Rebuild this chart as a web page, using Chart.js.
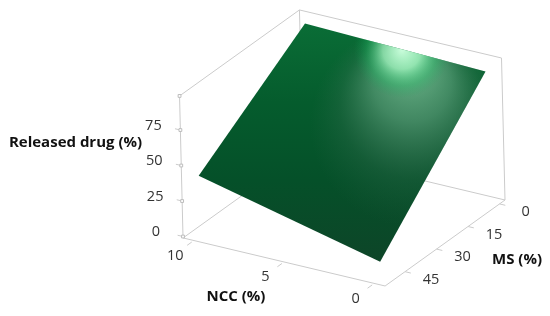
<!DOCTYPE html>
<html lang="en">

<head>
    <meta charset="UTF-8">
    <title>Released drug surface</title>
    <style>
        html, body { margin: 0; padding: 0; background: #fff; }
        canvas { display: block; }
    </style>
    <script src="https://cdn.jsdelivr.net/npm/chart.js"></script>
</head>

<body>
    <canvas id="myChart" width="550" height="316"></canvas>
    <script>
        // axis ticks
        const nccTicks = [10, 5, 0];
        const msTicks = [0, 15, 30, 45];
        const drugTicks = [0, 25, 50, 75];

        // box limits
        const nccRange = [-0.6, 10.6];
        const msRange = [-2.6, 54.5];
        const drugRange = [-1, 99];

        // surface corners: back, right, front, left
        const surfaceNcc = [10, 0, 0, 10];
        const surfaceMs = [0, 0, 51.5, 51.5];
        const surfaceDrug = [94, 90.4, 11, 41.5];

        const axisGrey = '#cbcbcb';
        const font = '"Open Sans", "Noto Sans", sans-serif';

        // fixed oblique view, data units -> plot units
        function project(ncc, ms, drug) {
            const n = ncc - nccRange[0];
            const m = ms - msRange[0];
            const z = drug - drugRange[0];
            return {
                x: 505 - 18.04 * n - 2.1 * m - 0.035 * z,
                y: 200 - 4.29 * n + 1.506 * m - 1.42 * z
            };
        }

        function lineSet(points, width) {
            return {
                data: points,
                showLine: true,
                borderColor: axisGrey,
                borderWidth: width || 1,
                pointRadius: 0,
                tension: 0,
                order: 5
            };
        }

        const [nLo, nHi] = nccRange;
        const [mLo, mHi] = msRange;
        const [zLo, zHi] = drugRange;

        const boxLines = [
            // floor
            [project(nHi, mHi, zLo), project(nLo, mHi, zLo), project(nLo, mLo, zLo), project(nHi, mLo, zLo), project(nHi, mHi, zLo)],
            // walls
            [project(nHi, mHi, zLo), project(nHi, mHi, zHi), project(nHi, mLo, zHi), project(nLo, mLo, zHi), project(nLo, mLo, zLo)],
            [project(nHi, mLo, zLo), project(nHi, mLo, zHi)]
        ];

        const tickLines = [
            ...nccTicks.map(n => [project(n, mHi + 1, zLo), project(n, mHi + 3.2, zLo)]),
            ...msTicks.map(m => [project(nLo, m, zLo), project(nLo - 0.32, m, zLo)]),
            ...drugTicks.map(z => [project(nHi, mHi, z), project(nHi + 0.3, mHi, z)])
        ];

        const drugMarkers = [...drugTicks.map(z => project(nHi, mHi, z)), project(nHi, mHi, zHi)];

        const surfacePoints = surfaceNcc.map((n, i) => project(n, surfaceMs[i], surfaceDrug[i]));
        surfacePoints.push(surfacePoints[0]);

        function baseShade(c) {
            const g = c.chart.ctx.createLinearGradient(0, 24, 0, 261);
            g.addColorStop(0, '#0a6d36');
            g.addColorStop(0.33, '#055c2d');
            g.addColorStop(0.66, '#055029');
            g.addColorStop(1, '#0d4528');
            return g;
        }

        function glowShade(c) {
            const g = c.chart.ctx.createRadialGradient(412, 60, 5, 412, 125, 102);
            g.addColorStop(0, 'rgba(150,215,175,0.72)');
            g.addColorStop(0.35, 'rgba(130,185,155,0.48)');
            g.addColorStop(0.7, 'rgba(90,130,110,0.17)');
            g.addColorStop(1, 'rgba(60,110,85,0)');
            return g;
        }

        function spotShade(c) {
            const g = c.chart.ctx.createRadialGradient(402, 50, 0, 402, 50, 48);
            g.addColorStop(0, 'rgba(205,255,222,0.98)');
            g.addColorStop(0.4, 'rgba(160,245,190,0.72)');
            g.addColorStop(0.75, 'rgba(30,190,100,0.3)');
            g.addColorStop(1, 'rgba(10,160,80,0)');
            return g;
        }

        function surfaceSet(shade, order) {
            return {
                data: surfacePoints,
                showLine: true,
                fill: 'shape',
                backgroundColor: shade,
                borderWidth: 0,
                pointRadius: 0,
                tension: 0,
                order: order
            };
        }

        // text labels, placed next to the projected ticks
        const axisText = {
            id: 'axisText',
            afterDraw(chart) {
                const { ctx, scales } = chart;
                const put = (text, x, y, bold) => {
                    ctx.font = (bold ? 'bold 15px ' : '14.5px ') + font;
                    ctx.fillStyle = bold ? '#111' : '#333';
                    ctx.textAlign = 'center';
                    ctx.textBaseline = 'middle';
                    ctx.fillText(text, x, y);
                };
                const px = p => [scales.x.getPixelForValue(p.x), scales.y.getPixelForValue(p.y)];
                ctx.save();
                nccTicks.forEach(n => {
                    const [x, y] = px(project(n, mHi + 1, zLo));
                    put(String(n), x - 16.5, y + 13.5);
                });
                msTicks.forEach(m => {
                    const [x, y] = px(project(nLo, m, zLo));
                    put(String(m), x + 26, y + 8);
                });
                drugTicks.forEach(z => {
                    const [x, y] = px(project(nHi, mHi, z));
                    put(String(z), x - 27, y - 4.5);
                });
                put('Released drug (%)', 75.5, 143, true);
                put('NCC (%)', 236, 297, true);
                put('MS (%)', 517, 260, true);
                ctx.restore();
            }
        };

        new Chart(document.getElementById('myChart').getContext('2d'), {
            type: 'scatter',
            data: {
                datasets: [
                    {
                        data: drugMarkers,
                        pointStyle: 'rect',
                        pointRadius: 2,
                        pointBackgroundColor: '#fff',
                        pointBorderColor: '#bdbdbd',
                        pointBorderWidth: 1,
                        order: 4
                    },
                    ...boxLines.map(p => lineSet(p)),
                    ...tickLines.map(p => lineSet(p)),
                    surfaceSet(baseShade, 3),
                    surfaceSet(glowShade, 2),
                    surfaceSet(spotShade, 1)
                ]
            },
            options: {
                responsive: false,
                animation: false,
                layout: { padding: 0, autoPadding: false },
                plugins: { legend: { display: false }, tooltip: { enabled: false }, title: { display: false } },
                scales: {
                    x: { type: 'linear', display: false, min: 0, max: 550 },
                    y: { type: 'linear', display: false, min: 0, max: 316, reverse: true }
                }
            },
            plugins: [axisText]
        });
    </script>
</body>

</html>
